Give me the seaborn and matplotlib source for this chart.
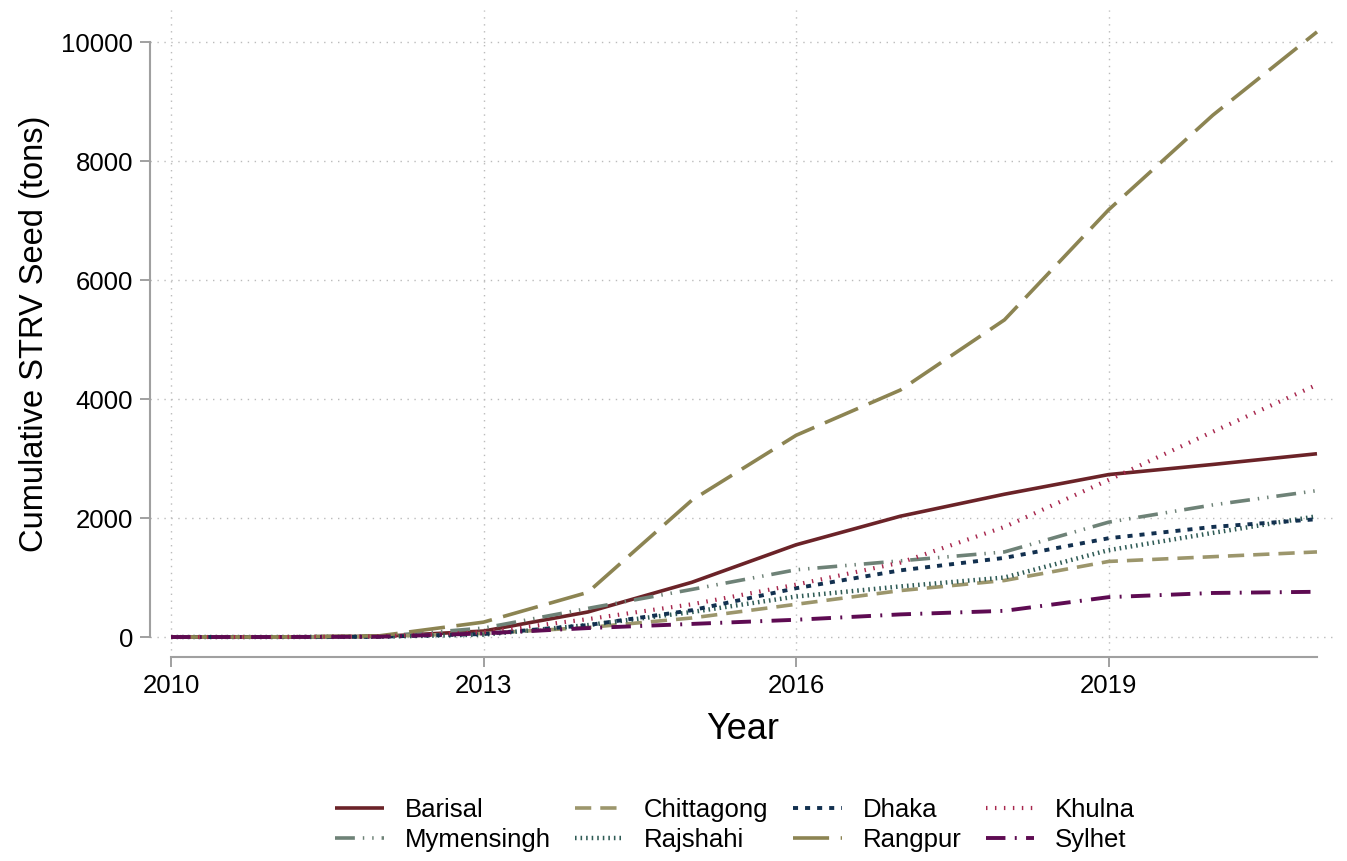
import matplotlib
matplotlib.use("Agg")
import matplotlib.pyplot as plt
import seaborn as sns
import pandas as pd
import numpy as np

years = list(range(2010, 2022))

barisal    = [0, 0, 10, 100, 420, 920, 1550, 2030, 2400, 2730, 2900, 3080]
mymensingh = [0, 0, 10, 150, 480, 800, 1130, 1280, 1430, 1930, 2220, 2460]
chittagong = [0, 0, 10, 60, 160, 320, 550, 780, 950, 1270, 1350, 1430]
rajshahi   = [0, 0, 5, 40, 200, 420, 680, 850, 1000, 1460, 1750, 2030]
dhaka      = [0, 0, 5, 50, 200, 450, 820, 1120, 1330, 1660, 1850, 1980]
rangpur    = [0, 0, 20, 250, 750, 2300, 3390, 4150, 5330, 7180, 8770, 10170]
khulna     = [0, 0, 10, 80, 300, 550, 880, 1250, 1850, 2640, 3450, 4240]
sylhet     = [0, 0, 5, 60, 150, 220, 290, 380, 440, 670, 740, 760]

divisions = ["Barisal", "Mymensingh", "Chittagong", "Rajshahi",
             "Dhaka", "Rangpur", "Khulna", "Sylhet"]
series = [barisal, mymensingh, chittagong, rajshahi, dhaka, rangpur, khulna, sylhet]

colors = {
    "Barisal": "#6B2328",
    "Mymensingh": "#6E8277",
    "Chittagong": "#9C966C",
    "Rajshahi": "#2F5B55",
    "Dhaka": "#12304F",
    "Rangpur": "#8C8452",
    "Khulna": "#A8284E",
    "Sylhet": "#5E0B52",
}
styles = {
    "Barisal": ("-", 2.6),
    "Mymensingh": ((0, (5.5, 2.2, 0.4, 2.2, 0.4, 2.2)), 2.6),
    "Chittagong": ((0, (4.5, 2.5)), 2.6),
    "Rajshahi": ((0, (0.35, 0.9)), 3.2),
    "Dhaka": ((0, (1.3, 1.8)), 2.8),
    "Rangpur": ((0, (10, 3.2)), 2.6),
    "Khulna": ((0, (0.35, 1.8)), 3.0),
    "Sylhet": ((0, (5, 2.4, 0.5, 2.4)), 2.8),
}

rows = []
for d, vals in zip(divisions, series):
    for y, v in zip(years, vals):
        rows.append({"Year": y, "Value": v, "Division": d})
df = pd.DataFrame(rows)

sns.set_theme(style="white")
plt.rcParams["font.family"] = ["Liberation Sans", "DejaVu Sans"]
plt.rcParams["text.color"] = "black"
plt.rcParams["axes.labelcolor"] = "black"

fig = plt.figure(figsize=(13.47, 8.61), dpi=100)
ax = fig.add_axes([150 / 1347, (861 - 657) / 861, 1185 / 1347, 647 / 861])

for d in divisions:
    ls, lw = styles[d]
    sns.lineplot(data=df[df["Division"] == d], x="Year", y="Value", ax=ax,
                 color=colors[d], linestyle=ls, linewidth=lw, label=d,
                 legend=False, dash_capstyle="butt", solid_capstyle="butt")

ax.set_xlim(2009.798, 2021.173)
ax.set_ylim(-336, 10538)
ax.set_xticks([2010, 2013, 2016, 2019])
ax.set_yticks([0, 2000, 4000, 6000, 8000, 10000])

ax.grid(True, color="#BBBBBB", linestyle=(0, (1, 4)), linewidth=1.0)
ax.set_axisbelow(True)

for s in ["top", "right"]:
    ax.spines[s].set_visible(False)
for s in ["left", "bottom"]:
    ax.spines[s].set_color("#A0A0A0")
    ax.spines[s].set_linewidth(1.5)
ax.spines["left"].set_bounds(0, 10000)
ax.spines["bottom"].set_bounds(2010, 2021)

ax.tick_params(axis="both", which="major", labelsize=18.5, colors="#999999",
               labelcolor="black", length=7, width=1.3, direction="out",
               left=True, bottom=True)
ax.tick_params(axis="y", pad=5)
ax.tick_params(axis="x", pad=5)

ax.set_xlabel("Year", fontsize=26, labelpad=10, color="black")
ax.set_ylabel("Cumulative STRV Seed (tons)", fontsize=23.5, labelpad=8, color="black")

handles, labels = ax.get_legend_handles_labels()
fig.legend(handles, labels, loc="center", ncol=4,
           bbox_to_anchor=(735 / 1347, 1 - 825 / 861),
           frameon=False, fontsize=18.5, handlelength=1.9, handletextpad=0.8,
           columnspacing=0.95, labelspacing=0.25)

fig.savefig("out.png", dpi=100, facecolor="white")
